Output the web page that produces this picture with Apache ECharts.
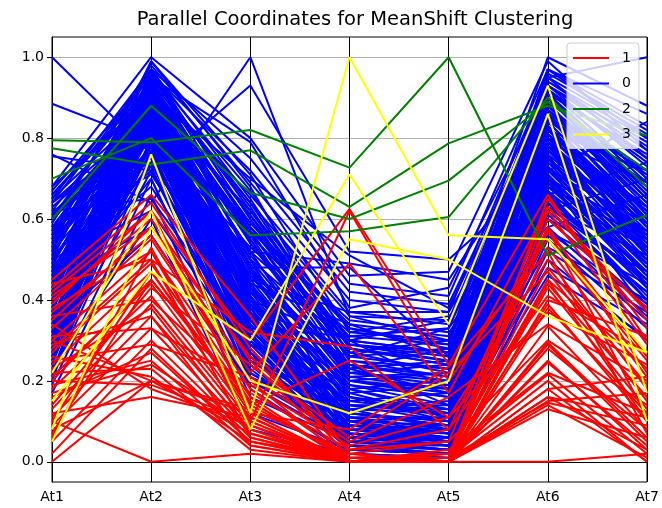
<!DOCTYPE html>
<html>
<head>
<meta charset="utf-8">
<script src="https://cdn.jsdelivr.net/npm/echarts@6/dist/echarts.min.js"></script>
<style>html,body{margin:0;padding:0;background:#fff;}#c{width:662px;height:508px;}</style>
</head>
<body>
<div id="c"></div>
<script>
const categories = ['At1','At2','At3','At4','At5','At6','At7'];
const yTicks = [0, 0.2, 0.4, 0.6, 0.8, 1.0];
const legendOrder = ['1','0','2','3'];

// cluster 0 (blue)
const cluster0Rows = [
[1.00,0.76,0.52,0.30,0.18,0.80,0.62],
[0.885,0.79,0.46,0.24,0.14,0.86,0.55],
[0.76,0.64,1.00,0.36,0.30,0.95,1.00],
[0.755,0.72,0.93,0.52,0.50,0.72,0.84],
[0.68,1.00,0.80,0.46,0.47,0.99,0.77],
[0.67,0.95,0.79,0.38,0.43,0.92,0.70],
[0.66,0.91,0.70,0.51,0.38,0.88,0.68],
[0.65,0.88,0.62,0.33,0.28,0.84,0.71],
[0.64,0.96,0.58,0.29,0.25,0.90,0.66],
[0.62,0.93,0.55,0.21,0.18,0.81,0.63],
[0.61,0.87,0.49,0.18,0.12,0.77,0.59],
[0.60,0.85,0.44,0.12,0.09,0.74,0.57],
[0.59,0.97,0.60,0.27,0.22,0.93,0.73],
[0.58,0.90,0.52,0.16,0.10,0.87,0.64],
[0.57,0.82,0.41,0.08,0.06,0.70,0.50],
[0.56,0.94,0.47,0.14,0.13,0.91,0.69],
[0.55,0.89,0.39,0.10,0.05,0.82,0.58],
[0.54,0.86,0.36,0.06,0.04,0.79,0.52],
[0.53,0.92,0.57,0.24,0.20,0.95,0.75],
[0.52,0.80,0.33,0.05,0.03,0.68,0.47],
[0.51,0.95,0.50,0.20,0.16,0.89,0.61],
[0.50,0.84,0.43,0.13,0.08,0.76,0.55],
[0.49,0.91,0.46,0.17,0.11,0.85,0.62],
[0.48,0.78,0.30,0.04,0.02,0.65,0.44],
[0.48,0.96,0.54,0.22,0.19,0.92,0.70],
[0.47,0.88,0.40,0.11,0.07,0.81,0.56],
[0.46,0.83,0.35,0.07,0.05,0.73,0.49],
[0.45,0.93,0.48,0.19,0.14,0.88,0.65],
[0.44,0.87,0.38,0.09,0.06,0.78,0.53],
[0.43,0.81,0.32,0.05,0.03,0.70,0.46],
[0.42,0.90,0.45,0.15,0.12,0.86,0.60],
[0.41,0.76,0.28,0.03,0.02,0.62,0.42],
[0.40,0.94,0.51,0.23,0.17,0.90,0.67],
[0.39,0.85,0.37,0.08,0.05,0.77,0.51],
[0.38,0.79,0.31,0.06,0.04,0.69,0.45],
[0.37,0.92,0.44,0.16,0.11,0.87,0.63],
[0.36,0.84,0.34,0.07,0.04,0.75,0.50],
[0.35,0.88,0.42,0.12,0.09,0.83,0.58],
[0.34,0.74,0.26,0.03,0.02,0.64,0.40],
[0.33,0.90,0.40,0.14,0.10,0.84,0.59],
[0.32,0.82,0.30,0.05,0.03,0.72,0.48],
[0.31,0.86,0.36,0.10,0.07,0.80,0.54],
[0.30,0.77,0.27,0.04,0.02,0.66,0.43],
[0.29,0.92,0.43,0.18,0.13,0.88,0.64],
[0.28,0.83,0.33,0.07,0.05,0.74,0.49],
[0.27,0.79,0.29,0.05,0.03,0.69,0.44],
[0.26,0.88,0.38,0.11,0.08,0.81,0.57],
[0.25,0.72,0.24,0.03,0.02,0.60,0.38],
[0.24,0.85,0.35,0.09,0.06,0.78,0.52],
[0.22,0.80,0.31,0.06,0.04,0.71,0.47],
[0.21,0.76,0.27,0.04,0.02,0.66,0.41],
[0.20,0.86,0.22,0.08,0.05,0.79,0.55],
[0.19,0.70,0.18,0.02,0.01,0.58,0.36],
[0.17,0.66,0.12,0.03,0.02,0.55,0.33],
[0.23,0.60,0.08,0.02,0.01,0.50,0.30],
[0.63,0.84,0.57,0.35,0.32,0.62,0.70],
[0.58,0.80,0.53,0.32,0.36,0.58,0.66],
[0.55,0.91,0.61,0.30,0.27,0.66,0.74],
[0.52,0.97,0.65,0.28,0.24,0.97,0.80],
[0.50,0.99,0.68,0.26,0.23,0.94,0.78],
[0.46,0.95,0.63,0.25,0.21,0.96,0.82],
[0.44,0.93,0.59,0.33,0.29,0.91,0.76],
[0.41,0.89,0.56,0.31,0.33,0.86,0.72],
[0.38,0.96,0.62,0.29,0.26,0.93,0.79],
[0.35,0.94,0.58,0.27,0.30,0.89,0.71],
[0.32,0.91,0.54,0.26,0.28,0.85,0.69],
[0.29,0.97,0.60,0.23,0.25,0.92,0.74],
[0.26,0.93,0.55,0.21,0.22,0.87,0.68],
[0.45,0.73,0.20,0.06,0.08,0.60,0.39],
[0.40,0.70,0.16,0.05,0.06,0.56,0.35],
[0.62,0.74,0.25,0.09,0.07,0.63,0.45],
[0.57,0.77,0.23,0.04,0.03,0.67,0.40],
[0.53,0.83,0.21,0.10,0.09,0.71,0.46],
[0.49,0.86,0.26,0.13,0.15,0.75,0.48],
[0.43,0.88,0.29,0.15,0.17,0.80,0.51],
[0.39,0.90,0.32,0.17,0.19,0.83,0.53],
[0.36,0.81,0.25,0.12,0.10,0.76,0.43],
[0.33,0.78,0.20,0.08,0.07,0.70,0.37],
[0.60,0.96,0.72,0.42,0.39,0.90,0.65],
[0.57,0.92,0.66,0.37,0.34,0.84,0.60],
[0.47,0.89,0.58,0.34,0.31,0.82,0.62],
[0.42,0.85,0.50,0.29,0.27,0.78,0.56],
[0.34,0.92,0.47,0.24,0.21,0.91,0.66],
[0.31,0.88,0.42,0.20,0.18,0.86,0.61],
[0.28,0.84,0.39,0.19,0.16,0.81,0.58],
[0.25,0.80,0.36,0.16,0.13,0.77,0.54],
[0.22,0.87,0.41,0.13,0.12,0.83,0.59],
[0.64,0.82,0.46,0.22,0.24,0.72,0.52],
[0.61,0.79,0.42,0.20,0.22,0.69,0.49],
[0.56,0.75,0.37,0.18,0.20,0.64,0.45],
[0.51,0.72,0.34,0.14,0.14,0.61,0.42],
[0.48,0.68,0.30,0.11,0.11,0.57,0.39],
[0.65,0.97,0.75,0.44,0.41,0.97,0.86],
[0.59,0.98,0.69,0.40,0.37,0.95,0.81],
[0.54,0.95,0.64,0.36,0.35,0.93,0.77],
[0.37,0.99,0.71,0.32,0.30,1.00,0.88],
[0.30,0.96,0.67,0.30,0.27,0.97,0.83],
[0.27,0.94,0.64,0.28,0.25,0.94,0.80],
[0.24,0.91,0.61,0.25,0.23,0.92,0.75],
[0.21,0.89,0.57,0.22,0.20,0.89,0.72],
[0.64,0.86,0.50,0.10,0.11,0.79,0.60],
[0.60,0.83,0.48,0.08,0.09,0.75,0.56],
[0.55,0.80,0.44,0.07,0.06,0.73,0.53],
[0.46,0.77,0.40,0.06,0.05,0.70,0.50],
[0.40,0.74,0.36,0.04,0.04,0.67,0.47],
[0.58,0.71,0.35,0.14,0.12,0.57,0.44],
[0.62,0.65,0.31,0.12,0.10,0.53,0.40],
[0.50,0.62,0.27,0.09,0.08,0.48,0.34],
[0.44,0.58,0.22,0.07,0.06,0.46,0.31],
[0.34,0.56,0.19,0.05,0.04,0.52,0.37],
[0.68,0.90,0.52,0.49,0.45,0.82,0.72],
[0.61,0.88,0.48,0.48,0.26,0.80,0.69],
[0.56,0.86,0.45,0.37,0.37,0.78,0.63],
[0.53,0.90,0.40,0.30,0.35,0.70,0.57],
[0.47,0.84,0.36,0.26,0.33,0.66,0.53],
[0.42,0.82,0.33,0.31,0.29,0.60,0.47],
[0.38,0.78,0.38,0.28,0.24,0.63,0.51],
[0.32,0.86,0.44,0.34,0.26,0.68,0.55],
[0.28,0.90,0.48,0.23,0.28,0.72,0.59],
[0.66,0.93,0.56,0.20,0.17,0.86,0.64]
];

// cluster 1 (red)
const cluster1Rows = [
[0.00,0.20,0.12,0.00,0.00,0.45,0.10],
[0.10,0.00,0.02,0.00,0.00,0.00,0.02],
[0.38,0.52,0.10,0.62,0.20,0.55,0.25],
[0.42,0.62,0.30,0.625,0.24,0.66,0.30],
[0.35,0.58,0.22,0.49,0.17,0.63,0.35],
[0.28,0.50,0.32,0.285,0.08,0.58,0.22],
[0.20,0.45,0.14,0.25,0.11,0.50,0.18],
[0.45,0.66,0.36,0.02,0.00,0.60,0.38],
[0.43,0.64,0.28,0.01,0.01,0.65,0.33],
[0.40,0.60,0.25,0.00,0.00,0.62,0.29],
[0.37,0.56,0.20,0.00,0.02,0.57,0.26],
[0.33,0.55,0.18,0.01,0.00,0.53,0.21],
[0.30,0.52,0.16,0.00,0.01,0.48,0.19],
[0.27,0.49,0.15,0.00,0.00,0.44,0.16],
[0.24,0.47,0.13,0.02,0.00,0.43,0.13],
[0.21,0.44,0.11,0.00,0.01,0.39,0.10],
[0.18,0.41,0.10,0.00,0.00,0.335,0.08],
[0.13,0.39,0.09,0.01,0.00,0.295,0.06],
[0.11,0.36,0.08,0.00,0.00,0.245,0.04],
[0.09,0.33,0.07,0.00,0.02,0.216,0.02],
[0.05,0.30,0.06,0.00,0.00,0.18,0.00],
[0.16,0.27,0.05,0.00,0.00,0.16,0.11],
[0.19,0.25,0.04,0.00,0.01,0.146,0.09],
[0.22,0.23,0.03,0.00,0.00,0.13,0.06],
[0.26,0.21,0.05,0.01,0.00,0.15,0.17],
[0.30,0.20,0.07,0.00,0.00,0.18,0.21],
[0.34,0.18,0.09,0.00,0.03,0.22,0.12],
[0.12,0.16,0.11,0.00,0.00,0.25,0.03],
[0.08,0.20,0.13,0.02,0.05,0.30,0.14],
[0.36,0.40,0.17,0.03,0.08,0.41,0.27],
[0.31,0.33,0.19,0.04,0.11,0.37,0.24],
[0.25,0.29,0.21,0.05,0.16,0.34,0.20],
[0.14,0.43,0.24,0.06,0.22,0.47,0.15],
[0.10,0.47,0.12,0.08,0.235,0.52,0.07],
[0.06,0.53,0.09,0.00,0.00,0.575,0.11],
[0.41,0.58,0.26,0.03,0.05,0.63,0.37],
[0.39,0.62,0.14,0.01,0.02,0.45,0.23],
[0.44,0.50,0.06,0.00,0.00,0.40,0.31],
[0.29,0.36,0.04,0.00,0.00,0.29,0.05],
[0.17,0.24,0.08,0.00,0.01,0.20,0.00],
[0.20,0.19,0.10,0.00,0.00,0.16,0.03],
[0.23,0.38,0.07,0.01,0.00,0.28,0.08],
[0.07,0.45,0.15,0.00,0.00,0.38,0.12],
[0.02,0.28,0.05,0.00,0.00,0.14,0.01]
];

// cluster 2 (green)
const cluster2Rows = [
[0.795,0.79,0.82,0.727,1.00,0.51,0.61],
[0.775,0.735,0.77,0.63,0.787,0.88,0.806],
[0.60,0.88,0.665,0.60,0.695,0.89,0.72],
[0.70,0.80,0.56,0.57,0.605,0.90,0.68]
];

// cluster 3 (yellow)
const cluster3Rows = [
[0.08,0.76,0.12,1.00,0.56,0.55,0.27],
[0.15,0.47,0.30,0.71,0.34,0.93,0.17],
[0.22,0.62,0.08,0.55,0.50,0.36,0.27],
[0.05,0.58,0.20,0.12,0.20,0.86,0.10]
];

const colors = { '1': '#ff0000', '0': '#0000ff', '2': '#008000', '3': '#ffff00' };

function makeSeries(name, rows) {
  return rows.map(r => ({
    name: name,
    type: 'line',
    data: r,
    symbol: 'none',
    silent: true,
    color: colors[name],
    lineStyle: { width: 2, color: colors[name] },
    emphasis: { disabled: true },
    animation: false
  }));
}

const series = [].concat(
  makeSeries('0', cluster0Rows),
  makeSeries('1', cluster1Rows),
  makeSeries('2', cluster2Rows),
  makeSeries('3', cluster3Rows)
);

const chart = echarts.init(document.getElementById('c'), null, { renderer: 'canvas' });
chart.setOption({
  animation: false,
  backgroundColor: '#ffffff',
  textStyle: { fontFamily: 'DejaVu Sans' },
  title: {
    text: 'Parallel Coordinates for MeanShift Clustering',
    left: 350, top: 5, textAlign: 'center',
    textStyle: { fontFamily: 'DejaVu Sans', fontSize: 19.5, fontWeight: 'normal', color: '#000' }
  },
  legend: {
    data: legendOrder,
    orient: 'vertical',
    left: 567, top: 43,
    icon: 'rect',
    itemWidth: 36, itemHeight: 2,
    itemGap: 9.5,
    padding: [7, 8, 6, 6],
    backgroundColor: 'rgba(255,255,255,0.8)',
    borderColor: '#cccccc', borderWidth: 1, borderRadius: 3,
    textStyle: { fontFamily: 'DejaVu Sans', fontSize: 14, color: '#000', lineHeight: 16, padding: [0, 0, 0, 8] },
    selectedMode: false
  },
  grid: { left: 52, right: 15, top: 37, bottom: 26, show: true, borderColor: '#000', borderWidth: 1, containLabel: false },
  xAxis: {
    type: 'category', data: categories, boundaryGap: false,
    axisLine: { show: true, lineStyle: { color: '#000', width: 1 } },
    axisTick: { show: true, length: 5, inside: false, lineStyle: { color: '#000' }, alignWithLabel: true },
    axisLabel: { fontFamily: 'DejaVu Sans', fontSize: 14, color: '#000', margin: 8 },
    splitLine: { show: true, lineStyle: { color: '#000', width: 1 } }
  },
  yAxis: {
    type: 'value', min: -0.05, max: 1.05,
    axisLine: { show: true, lineStyle: { color: '#000', width: 1 } },
    axisTick: { show: true, length: 5, lineStyle: { color: '#000' }, customValues: yTicks },
    axisLabel: { fontFamily: 'DejaVu Sans', fontSize: 14, color: '#000', margin: 8, customValues: yTicks,
      formatter: v => v.toFixed(1) },
    splitLine: { show: true, lineStyle: { color: '#b0b0b0', width: 1 } }
  },
  series: series
});
</script>
</body>
</html>
